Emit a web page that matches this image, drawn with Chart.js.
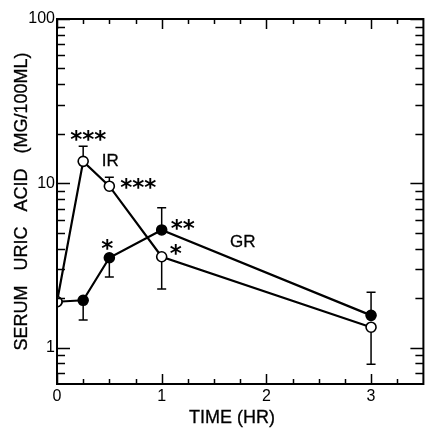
<!DOCTYPE html>
<html>
<head>
<meta charset="utf-8">
<script src="https://cdn.jsdelivr.net/npm/chart.js@4"></script>
<style>
  body { margin: 0; background: #fff; }
  #wrap { width: 430px; height: 428px; position: relative; }
</style>
</head>
<body>
<div id="wrap"><canvas id="uricChart"></canvas></div>
<script>
// data
const timeHr = [0, 0.25, 0.5, 1, 3];
const irValues = [1.9, 13.6, 9.6, 3.57, 1.33];
const grValues = [1.9, 1.94, 3.52, 5.2, 1.57];
const irErrHigh = [null, 16.8, 10.9, null, null];
const irErrLow = [null, null, null, 2.27, 0.79];
const grErrHigh = [null, null, null, 7.1, 2.17];
const grErrLow = [null, 1.47, 2.69, null, null];

const xTickValues = [0, 1, 2, 3];
const xMinorTicks = [0.25, 0.5, 0.75, 1.25, 1.5, 1.75, 2.25, 2.5, 2.75, 3.25];
const yTickValues = [1, 10, 100];
const yMinorTicks = [0.7, 0.8, 0.9, 2, 3, 4, 5, 6, 7, 8, 9, 20, 30, 40, 50, 60, 70, 80, 90];

const yTitle = 'SERUM   URIC   ACID   (MG/100ML)';
const xTitle = 'TIME (HR)';

// labels placed next to points: [text, dataset, index, dx, dy]
const notes = [
    ['***', 0, 1, 5, -27],
    ['IR', 0, 1, 27, -1],
    ['***', 0, 2, 29, -4],
    ['*', 0, 3, 14, -9],
    ['*', 1, 2, -2, -15],
    ['**', 1, 3, 21, -7],
    ['GR', 1, 3, 81, 11]
];

const FONT = '"Liberation Sans", Arial, sans-serif';

const toPoints = (ys) => timeHr.map((t, i) => ({ x: t, y: ys[i] }));

// slightly heavier text, the scan is a bit blotchy
function heavyText(ctx, txt, x, y) {
    ctx.lineWidth = 0.3;
    ctx.strokeText(txt, x, y);
    ctx.fillText(txt, x, y);
}

const framePlugin = {
    id: 'frame',
    beforeDatasetsDraw(chart) {
        const ctx = chart.ctx;
        const xs = chart.scales.x, ys = chart.scales.y;
        // error bars
        const bars = [[irErrHigh, irValues], [irErrLow, irValues], [grErrHigh, grValues], [grErrLow, grValues]];
        ctx.save();
        ctx.strokeStyle = '#000';
        ctx.lineWidth = 1.5;
        bars.forEach(([ends, vals]) => {
            ends.forEach((e, i) => {
                if (e == null) return;
                const px = xs.getPixelForValue(timeHr[i]);
                const p0 = ys.getPixelForValue(vals[i]);
                const p1 = ys.getPixelForValue(e);
                ctx.beginPath();
                ctx.moveTo(px, p0);
                ctx.lineTo(px, p1);
                ctx.moveTo(px - 4.5, p1);
                ctx.lineTo(px + 4.5, p1);
                ctx.stroke();
            });
        });
        ctx.restore();
    },
    afterDraw(chart) {
        const ctx = chart.ctx;
        const a = chart.chartArea;
        const xs = chart.scales.x, ys = chart.scales.y;
        ctx.save();
        ctx.strokeStyle = '#000';
        ctx.lineWidth = 2;
        ctx.strokeRect(a.left, a.top, a.right - a.left, a.bottom - a.top);

        ctx.lineWidth = 1.5;
        ctx.beginPath();
        const xTick = (v, len) => {
            const px = Math.round(xs.getPixelForValue(v)) + 0.5;
            ctx.moveTo(px, a.bottom); ctx.lineTo(px, a.bottom - len);
            ctx.moveTo(px, a.top); ctx.lineTo(px, a.top + len);
        };
        const yTick = (v, len) => {
            const py = Math.round(ys.getPixelForValue(v)) + 0.5;
            ctx.moveTo(a.left, py); ctx.lineTo(a.left + len, py);
            ctx.moveTo(a.right, py); ctx.lineTo(a.right - len, py);
        };
        xTickValues.forEach(v => xTick(v, 10));
        xMinorTicks.forEach(v => xTick(v, 5));
        yTickValues.forEach(v => yTick(v, 13));
        yMinorTicks.forEach(v => yTick(v, 8));
        ctx.stroke();

        // notes
        ctx.fillStyle = '#000';
        ctx.strokeStyle = '#000';
        ctx.textAlign = 'center';
        notes.forEach(([txt, ds, i, dx, dy]) => {
            const meta = chart.getDatasetMeta(ds).data[i];
            const x = meta.x + dx, y = meta.y + dy;
            if (txt[0] === '*') {
                ctx.font = 'bold 23px "DejaVu Sans", sans-serif';
                ctx.textBaseline = 'alphabetic';
                ctx.fillText(txt, x, y + 13);
            } else {
                ctx.font = '17px ' + FONT;
                ctx.textBaseline = 'middle';
                heavyText(ctx, txt, x, y + 1);
            }
        });

        // axis titles
        ctx.font = '18px ' + FONT;
        ctx.textBaseline = 'middle';
        heavyText(ctx, xTitle, a.left + 175, 418);
        ctx.translate(22, (a.top + a.bottom) / 2);
        ctx.rotate(-Math.PI / 2);
        heavyText(ctx, yTitle, 0, 0);
        ctx.restore();
    }
};

new Chart(document.getElementById('uricChart'), {
    type: 'line',
    data: {
        datasets: [
            {
                label: 'IR',
                data: toPoints(irValues),
                borderColor: '#000',
                borderWidth: 2.2,
                pointRadius: 5,
                pointBorderWidth: 1.6,
                pointBackgroundColor: '#fff',
                pointBorderColor: '#000'
            },
            {
                label: 'GR',
                data: toPoints(grValues),
                borderColor: '#000',
                borderWidth: 2.2,
                pointRadius: 5,
                pointBorderWidth: 1.6,
                pointBackgroundColor: '#000',
                pointBorderColor: '#000'
            }
        ]
    },
    options: {
        responsive: true,
        maintainAspectRatio: false,
        animation: false,
        layout: { padding: { top: 19, right: 2, left: 0, bottom: 0 } },
        plugins: {
            legend: { display: false },
            tooltip: { enabled: false }
        },
        scales: {
            x: {
                type: 'linear',
                min: 0,
                max: 3.5,
                grid: { display: false, drawTicks: false },
                border: { display: false },
                afterBuildTicks: (s) => { s.ticks = xTickValues.map(v => ({ value: v })); },
                afterFit: (s) => { s.height = 44; },
                ticks: {
                    color: '#000',
                    padding: 3,
                    maxRotation: 0,
                    font: { family: FONT, size: 16 },
                    callback: (v) => String(v)
                }
            },
            y: {
                type: 'logarithmic',
                min: 0.6,
                max: 100,
                grid: { display: false, drawTicks: false },
                border: { display: false },
                afterBuildTicks: (s) => { s.ticks = yTickValues.map(v => ({ value: v })); },
                afterFit: (s) => { s.width = 57; },
                ticks: {
                    color: '#000',
                    padding: 2,
                    font: { family: FONT, size: 16 },
                    callback: (v) => String(v)
                }
            }
        }
    },
    plugins: [framePlugin]
});
</script>
</body>
</html>
